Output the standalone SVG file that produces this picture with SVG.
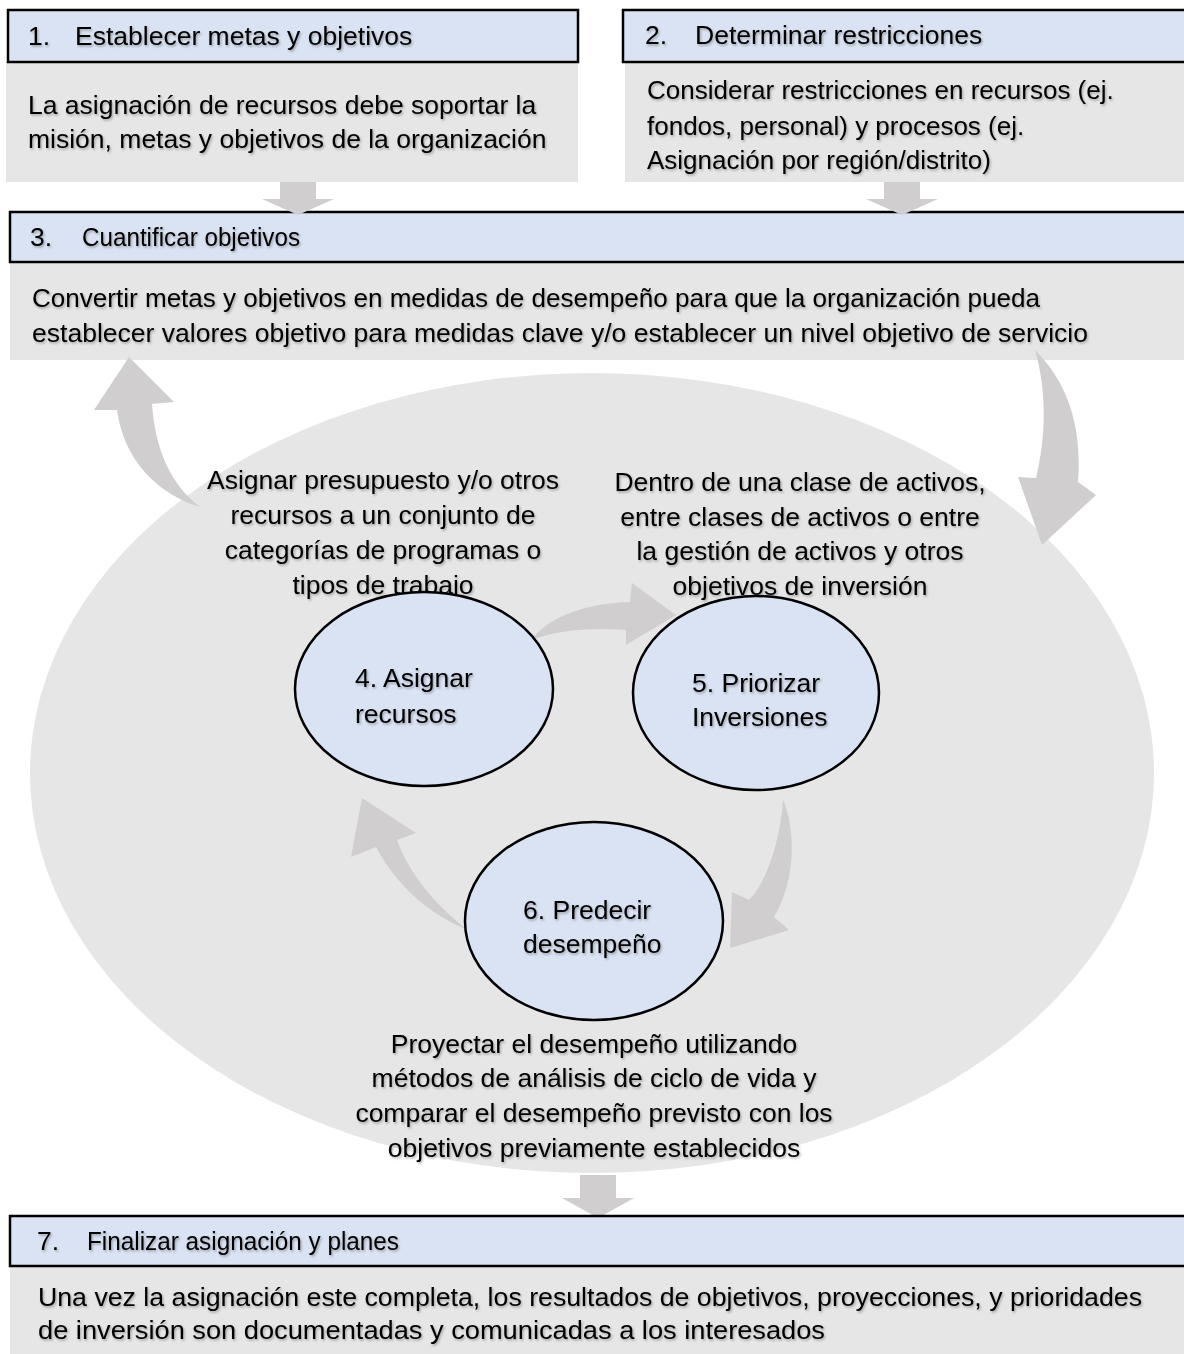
<svg xmlns="http://www.w3.org/2000/svg" width="1184" height="1354" viewBox="0 0 1184 1354">
<defs>
<filter id="sh" x="-5%" y="-20%" width="110%" height="150%"><feDropShadow dx="1.2" dy="1.6" stdDeviation="0.9" flood-color="#000" flood-opacity="0.3"/></filter>
</defs>
<style>
.hdr{fill:#dae3f3;stroke:#000;stroke-width:2.5}
.body{fill:#e7e6e6}
.big{fill:#e7e6e6}
.node{fill:#dae3f3;stroke:#000;stroke-width:2.5}
.arr{fill:#d0cece}
text{font-family:"Liberation Sans",Arial,sans-serif;fill:#000;filter:url(#sh);font-size:26.5px}
.s{font-size:26px}
.c{text-anchor:middle}
</style>
<rect width="1184" height="1354" fill="#fff"/>
<ellipse class="big" cx="592" cy="773" rx="562" ry="400"/>

<g id="n1">
<rect class="body" x="6" y="62" width="572" height="120"/>
<rect class="hdr" x="8" y="10" width="570" height="52"/>
<text x="28" y="45">1.</text><text x="75" y="45">Establecer metas y objetivos</text>
<text x="28" y="114">La asignación de recursos debe soportar la</text>
<text x="28" y="148">misión, metas y objetivos de la organización</text>
</g>
<g id="n2">
<rect class="body" x="625" y="62" width="570" height="120"/>
<rect class="hdr" x="623" y="10" width="580" height="52"/>
<text x="645" y="44">2.</text><text x="695" y="44">Determinar restricciones</text>
<text class="s" x="647" y="99">Considerar restricciones en recursos (ej.</text>
<text class="s" x="647" y="135">fondos, personal) y procesos (ej.</text>
<text class="s" x="647" y="169">Asignación por región/distrito)</text>
</g>
<g id="n3">
<rect class="body" x="10" y="262" width="1190" height="98"/>
<rect class="hdr" x="10" y="212" width="1190" height="50"/>
<text x="30" y="246">3.</text><text x="82" y="246" textLength="218" lengthAdjust="spacingAndGlyphs">Cuantificar objetivos</text>
<text x="32" y="307" textLength="1008" lengthAdjust="spacingAndGlyphs">Convertir metas y objetivos en medidas de desempeño para que la organización pueda</text>
<text x="32" y="342" textLength="1056" lengthAdjust="spacingAndGlyphs">establecer valores objetivo para medidas clave y/o establecer un nivel objetivo de servicio</text>
</g>

<g id="connectors">
<path class="arr" d="M280,182 H316 V199 H334 L298,215 L262,199 H280 Z"/>
<path class="arr" d="M884,182 H920 V199 H938 L902,215 L866,199 H884 Z"/>
<path class="arr" d="M580,1175 H616 V1198 H634 L598,1218 L562,1198 H580 Z"/>
<path class="arr" d="M200,507 C160,495 124,462 117,410 L94,410 L129,357 L174,402 L152,404 C155,448 170,484 200,507 Z"/>
<path class="arr" d="M1035,350 C1070,385 1082,430 1078,482 L1096,495 L1042,545 L1018,477 L1036,478 C1045,440 1048,395 1035,350 Z"/>
<path class="arr" d="M531,640 C550,615 590,603 630,602 L632,583 L676,615 L626,645 L626,630 C590,627 558,630 531,640 Z"/>
<path class="arr" d="M783,800 C796,830 796,880 774,917 L789,930 L730,948 L732,892 L749,900 C768,880 780,840 783,800 Z"/>
<path class="arr" d="M468,930 C430,915 396,885 376,847 L351,857 L362,798 L416,833 L397,840 C410,875 435,905 468,930 Z"/>
</g>

<text class="c" x="383" y="489">Asignar presupuesto y/o otros</text>
<text class="c" x="383" y="524">recursos a un conjunto de</text>
<text class="c" x="383" y="559">categorías de programas o</text>
<text class="c" x="383" y="594">tipos de trabajo</text>
<text class="c" x="800" y="491">Dentro de una clase de activos,</text>
<text class="c" x="800" y="526">entre clases de activos o entre</text>
<text class="c" x="800" y="560">la gestión de activos y otros</text>
<text class="c" x="800" y="595">objetivos de inversión</text>

<g id="n4">
<ellipse class="node" cx="424" cy="689" rx="129" ry="97"/>
<text x="355" y="687">4. Asignar</text>
<text x="355" y="723">recursos</text>
</g>
<g id="n5">
<ellipse class="node" cx="756" cy="693" rx="123" ry="97"/>
<text x="692" y="692">5. Priorizar</text>
<text x="692" y="726">Inversiones</text>
</g>
<g id="n6">
<ellipse class="node" cx="594" cy="921" rx="129" ry="99"/>
<text x="523" y="919">6. Predecir</text>
<text x="523" y="953">desempeño</text>
</g>

<text class="c" x="594" y="1053">Proyectar el desempeño utilizando</text>
<text class="c" x="594" y="1087">métodos de análisis de ciclo de vida y</text>
<text class="c" x="594" y="1122">comparar el desempeño previsto con los</text>
<text class="c" x="594" y="1157">objetivos previamente establecidos</text>

<g id="n7">
<rect class="body" x="10" y="1266" width="1190" height="90"/>
<rect class="hdr" x="10" y="1216" width="1190" height="50"/>
<text x="37" y="1250">7.</text><text x="87" y="1250" textLength="312" lengthAdjust="spacingAndGlyphs">Finalizar asignación y planes</text>
<text x="38" y="1306" textLength="1104" lengthAdjust="spacingAndGlyphs">Una vez la asignación este completa, los resultados de objetivos, proyecciones, y prioridades</text>
<text x="38" y="1339" textLength="787" lengthAdjust="spacingAndGlyphs">de inversión son documentadas y comunicadas a los interesados</text>
</g>
</svg>
